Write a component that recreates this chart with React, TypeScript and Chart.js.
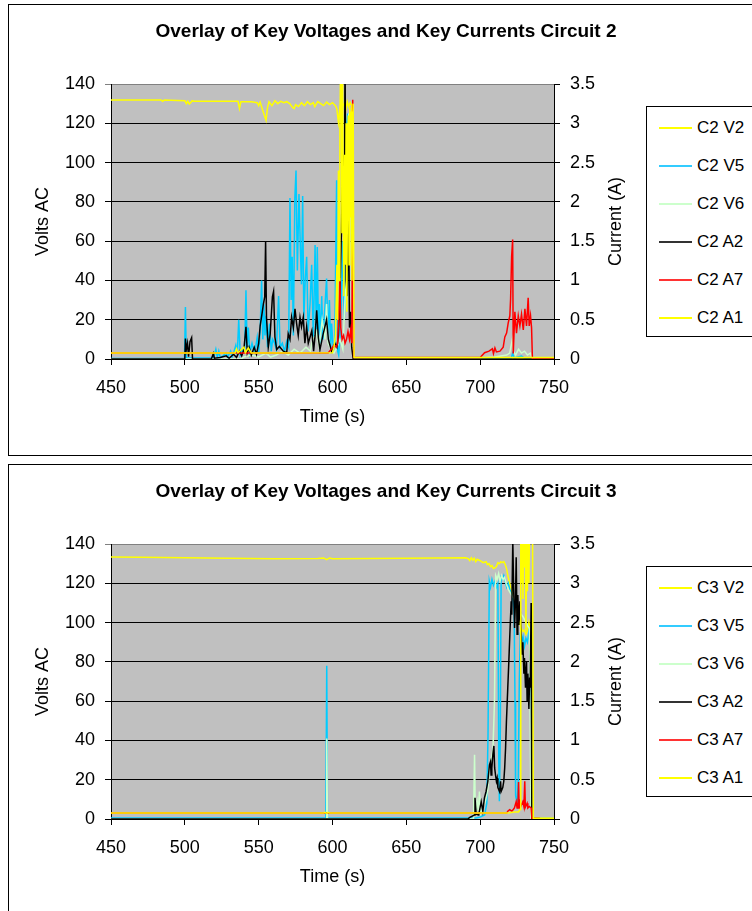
import React, { useEffect, useRef } from "react";
import { Chart, registerables } from "chart.js";

Chart.register(...registerables);

const FONT = "'Liberation Sans', Arial, Helvetica, sans-serif";

// ---------- axes ----------
const TIME_TICKS = [450, 500, 550, 600, 650, 700, 750];
const VOLT_TICKS = [0, 20, 40, 60, 80, 100, 120, 140];
const AMP_TICKS = [0, 0.5, 1, 1.5, 2, 2.5, 3, 3.5];

const TITLE_C2 = "Overlay of Key Voltages and Key Currents Circuit 2";
const TITLE_C3 = "Overlay of Key Voltages and Key Currents Circuit 3";
const X_TITLE = "Time (s)";
const Y_TITLE = "Volts AC";
const Y1_TITLE = "Current (A)";

const NAMES_C2 = ["C2 V2", "C2 V5", "C2 V6", "C2 A2", "C2 A7", "C2 A1"];
const NAMES_C3 = ["C3 V2", "C3 V5", "C3 V6", "C3 A2", "C3 A7", "C3 A1"];

// ---------- Circuit 2 data: [time s, value] ----------
const C2_V2: [number, number][] = [
  [450, 131.8], [484, 131.8], [485, 131.2], [486, 131.8], [500, 131.5], [501, 130.0], [502, 131.2], [503, 129.8],
  [504, 130.6], [505, 131.5], [506, 131.2], [536, 131.2], [537, 127.5], [538, 131.0], [545, 131.0], [549, 130.5],
  [550, 129.0], [551, 130.8], [553, 126.0], [555, 121.5], [556, 128.0], [557, 131.0], [559, 129.0], [561, 131.5],
  [563, 130.0], [565, 131.2], [567, 130.5], [569, 131.0], [571, 130.0], [573, 128.0], [574, 127.5], [575, 129.5],
  [577, 128.5], [579, 130.5], [581, 129.0], [583, 131.0], [585, 129.5], [587, 130.5], [588, 128.5], [590, 131.0],
  [592, 130.0], [594, 129.0], [596, 130.8], [598, 129.5], [600, 130.5], [602, 129.0], [603, 127.0], [604, 120.5],
  [605, 128.0], [606, 126.0], [607, 129.0], [608, 130.0], [609, 127.0], [610, 131.0], [611, 128.5], [612, 130.5],
  [613, 129.0], [614, 0.5], [750, 0.5],
];
const C2_V5: [number, number][] = [
  [450, 0.3], [499.8, 0.3], [500.4, 26.5], [501, 0.5], [519, 0.5], [520, 2], [521, 5], [522, 1], [523, 4], [524, 0.5],
  [528, 3], [529, 1], [531, 4], [532, 1], [533, 3], [534.5, 7], [535.5, 2], [536.5, 20], [537.5, 2], [539, 5],
  [540.5, 4], [541.4, 35], [542.2, 6], [543, 16], [544, 3], [545.5, 8], [546.8, 4], [548, 6], [549, 11], [550, 3],
  [551, 14], [552, 40], [552.8, 10], [553.5, 28], [554.3, 12], [555, 22], [556, 6], [557.4, 18], [558.5, 4],
  [559.5, 10], [560.8, 8], [562, 5], [563.5, 32], [564.5, 6], [566, 8], [567.5, 4], [569, 9], [570.3, 6],
  [571.2, 82], [572, 30], [572.7, 52], [573.5, 12], [574.5, 82], [575.3, 96], [576.2, 45], [577.3, 84], [578.3, 55],
  [579, 38], [579.8, 83], [580.6, 20], [581.5, 40], [582.5, 52], [583.5, 14], [584.8, 28], [585.9, 48], [587, 10],
  [588.2, 58], [589, 15], [589.7, 57], [590.5, 12], [591.1, 28], [592, 8], [592.7, 32], [593.5, 10], [594.5, 22],
  [596, 41], [597, 10], [597.9, 30], [598.8, 6], [599.4, 18], [600.5, 5], [601.5, 8], [602.8, 91], [603.5, 4],
  [604.2, 2], [605, 10], [606, 30], [607, 60], [608, 20], [609, 90], [609.6, 118], [610.3, 125], [611, 100],
  [611.6, 122], [612.3, 91], [613, 77], [613.6, 30], [614.2, 0.3], [721, 0.3], [722, 3], [723, 0.5], [728, 1.5],
  [730, 0.5], [750, 0.3],
];
const C2_V6: [number, number][] = [
  [450, 0], [538, 0], [540, 1], [545, 2], [550, 1], [555, 3], [558, 1], [562, 2], [566, 4], [570, 2], [574, 5],
  [578, 3], [582, 6], [585, 4], [586, 8], [589, 14], [591, 6], [593, 20], [595, 10], [596, 28], [597, 8], [599, 5],
  [601, 3], [603, 6], [605, 10], [607, 5], [609, 40], [610, 90], [611, 125], [612, 120], [612.5, 80], [613, 20],
  [614, 3], [615, 0.5], [700, 0.5], [710, 1], [718, 2], [720, 3], [721.8, 10], [722.5, 4], [724, 2], [726, 5],
  [728, 3], [730, 4], [732, 2], [734, 3], [735, 0.5], [750, 0.5],
];
const C2_A2: [number, number][] = [
  [450, 0], [500, 0], [500.4, 0.26], [501, 0.12], [501.8, 0.2], [502.5, 0.03], [503.5, 0.22], [504.6, 0.27],
  [505.2, 0], [518, 0], [519.3, 0.07], [520, 0.01], [524, 0.02], [528, 0.04], [530, 0.01], [533, 0.06], [535, 0.02],
  [537, 0.1], [538.5, 0.04], [540, 0.12], [541.4, 0.41], [542.3, 0.08], [543.5, 0.15], [545, 0.05], [547, 0.15],
  [548.5, 0.06], [550, 0.2], [551, 0.42], [552.3, 0.58], [553.2, 0.7], [554.1, 0.79], [554.7, 1.5], [555.3, 0.53],
  [556.5, 0.15], [557.8, 0.32], [559.3, 0.79], [560.1, 0.86], [561, 0.28], [562.2, 0.12], [564, 0.16], [566.7, 0.1],
  [569, 0.08], [570, 0.32], [571.2, 0.25], [572.3, 0.53], [573.5, 0.4], [574.6, 0.64], [575.7, 0.45], [576.8, 0.3],
  [578, 0.53], [579, 0.41], [580.2, 0.53], [581.3, 0.2], [582.5, 0.41], [583.6, 0.2], [584.8, 0.28], [586, 0.36],
  [587.2, 0.1], [588.2, 0.3], [589.3, 0.62], [590.4, 0.27], [591.5, 0.12], [593.7, 0.32], [596, 0.5], [597.2, 0.25],
  [599.4, 0.1], [601.7, 0.2], [603, 0.15], [604, 0.3], [605, 0.8], [606, 1.6], [607, 2.6], [607.8, 1.2],
  [608.5, 3.8], [609.2, 1.0], [610, 0.8], [610.8, 2.2], [611.5, 0.4], [612.3, 0.6], [613, 0.15], [614, 0], [750, 0],
];
const C2_A7: [number, number][] = [
  [450, 0.075], [597, 0.075], [598, 0.1], [599.5, 0.13], [601, 0.18], [602.5, 0.15], [603.5, 0.2], [604.3, 0.6],
  [605, 1.03], [605.6, 0.4], [606.5, 0.25], [607.5, 0.3], [608.5, 0.2], [609.5, 0.25], [610.5, 0.35], [611.5, 0.25],
  [612.4, 0.37], [613.1, 0.2], [613.7, 3.3], [614.3, 0.02], [700, 0.02], [703, 0.08], [706, 0.1], [708.3, 0.13],
  [709, 0.07], [710, 0.14], [711, 0.09], [713.4, 0.1], [715.6, 0.15], [716.7, 0.28], [717.9, 0.33], [719, 0.46],
  [720.1, 0.55], [720.6, 0.76], [721.3, 1.3], [722, 1.52], [722.4, 0.07], [723.5, 0.6], [724.6, 0.33], [725.8, 0.55],
  [726.9, 0.42], [728, 0.57], [729.2, 0.37], [730.3, 0.64], [731.4, 0.42], [732.5, 0.78], [733.2, 0.42],
  [734.1, 0.55], [734.8, 0.4], [735.4, 0.0], [750, 0.0],
];
const C2_A1: [number, number][] = [
  [450, 0.075], [534, 0.075], [535, 0.13], [536, 0.08], [540, 0.15], [541, 0.08], [543, 0.14], [545, 0.075],
  [600, 0.08], [601, 0.15], [602, 0.3], [603, 1.2], [603.5, 0.5], [604, 2.4], [604.5, 1.0], [605, 2.9], [605.5, 3.8],
  [606, 3.7], [606.4, 1.6], [606.8, 3.8], [607.2, 2.2], [607.7, 0.8], [608.2, 2.6], [608.7, 1.2], [609.2, 3.0],
  [609.7, 0.6], [610.2, 2.4], [610.7, 3.1], [611.2, 1.2], [611.7, 3.2], [612.2, 1.8], [612.7, 3.15], [613.2, 1.0],
  [613.6, 3.0], [614, 3.25], [614.6, 0.02], [750, 0.02],
];

// ---------- Circuit 3 data: [time s, value] ----------
const C3_V2: [number, number][] = [
  [450, 133.4], [470, 133.3], [500, 133.0], [530, 132.7], [560, 132.5], [590, 132.6], [594, 132.9], [596, 132.0],
  [598, 132.9], [600, 132.5], [650, 132.8], [690, 133.0], [692, 132.5], [693, 131.5], [694, 133.0], [695, 131.8],
  [696, 132.8], [697, 131.0], [698, 132.2], [700, 131.5], [702, 130.5], [704, 131.0], [705, 129.5], [706, 130.0],
  [707, 128.5], [708, 129.0], [709, 127.5], [710, 127.8], [711, 128.5], [712, 130.5], [713, 130.0], [714, 131.0],
  [715, 130.5], [716, 131.0], [717, 129.5], [718, 127.0], [719, 123.0], [720, 120.0], [721, 117.0], [722, 114.0],
  [723, 111.0], [724, 108.0], [725, 105.0], [726, 102.0], [727, 99.0], [728, 97.0], [729, 95.5], [730, 96.0],
  [731, 94.0], [732, 96.0], [733, 100.0], [734, 95.0], [735, 0.4], [750, 0.4],
];
const C3_V5: [number, number][] = [
  [450, 0.5], [595.5, 0.5], [596.1, 78], [596.6, 0.5], [697, 0.5], [700, 1], [703, 2], [704.5, 8], [705.3, 42],
  [706.2, 121], [707, 118], [708, 122], [709, 119], [710, 121], [711, 118], [712, 120], [712.6, 30], [713, 9],
  [713.6, 40], [714.2, 123], [715, 122], [716, 124], [717, 121], [718, 118], [719, 120], [720, 117], [721, 115],
  [722, 113], [723, 105], [723.6, 60], [724, 12], [725, 8], [725.8, 20], [726.5, 70], [727.2, 95], [728, 90],
  [729, 93], [730, 88], [731, 92], [732, 90], [733, 95], [734, 88], [734.8, 0.3], [750, 0.3],
];
const C3_V6: [number, number][] = [
  [450, 0], [595.6, 0], [596.1, 41], [596.6, 0], [695.5, 0], [696.2, 32.7], [696.7, 2], [698, 9], [698.8, 4],
  [699.5, 14], [700.5, 3], [702, 6], [703.5, 9], [705, 14], [706.3, 25], [707.5, 30], [708.7, 36], [709.7, 60],
  [710.5, 124], [711.5, 122], [712.5, 125], [713.5, 121], [714.5, 124], [715.5, 122], [716.5, 123], [717.6, 120],
  [719, 117], [720.5, 115], [722, 113], [723.2, 112], [725, 108], [727, 105], [729, 103], [731, 100], [732.5, 98],
  [733.4, 97], [734.4, 0], [750, 0],
];
const C3_A2: [number, number][] = [
  [450, 0], [691.6, 0], [693, 0.02], [695, 0.04], [696, 0.05], [696.5, 0.27], [697.3, 0.06], [699, 0.05],
  [700.7, 0.22], [701.8, 0.1], [702.9, 0.27], [704, 0.35], [705.2, 0.48], [706.3, 0.69], [707, 0.73], [707.4, 0.56],
  [707.9, 0.65], [708.6, 0.82], [709.3, 0.93], [709.8, 0.65], [710.4, 0.56], [711, 0.48], [711.5, 0.52], [712, 0.4],
  [713.1, 0.35], [713.8, 0.48], [714.2, 0.35], [715.3, 0.4], [716, 0.48], [716.6, 0.65], [717.2, 0.9], [717.8, 1.25],
  [718.7, 1.67], [719.4, 2.0], [720.1, 2.35], [721, 2.77], [721.4, 2.6], [722.1, 3.55], [722.6, 3.0], [723.3, 2.43],
  [723.9, 2.77], [724.4, 3.33], [725, 2.35], [725.5, 2.85], [726.2, 2.47], [726.9, 2.77], [727.8, 2.35],
  [728.4, 2.1], [728.9, 2.25], [729.6, 1.85], [730, 2.05], [730.7, 1.67], [731.4, 2.0], [731.8, 1.5], [732.3, 1.85],
  [733, 1.4], [733.5, 1.8], [733.9, 1.67], [734.5, 2.75], [735, 0], [750, 0],
];
const C3_A7: [number, number][] = [
  [450, 0.075], [718, 0.075], [718.7, 0.1], [720, 0.12], [721.5, 0.1], [723.2, 0.14], [724.4, 0.22], [725, 0.14],
  [725.6, 0.2], [726, 0.47], [726.4, 0.14], [726.9, 0.25], [727.5, 0.16], [728.9, 0.22], [729.6, 0.16],
  [730.2, 0.48], [730.6, 0.15], [731.8, 0.2], [732.3, 0.14], [733.4, 0.16], [734.5, 0.14], [735, 0.01], [740, 0.01],
  [741, 0], [750, 0],
];
const C3_A1: [number, number][] = [
  [450, 0.075], [594, 0.075], [595, 0.085], [596, 0.07], [597, 0.085], [598, 0.075], [718, 0.075], [720, 0.08],
  [723, 0.09], [726, 0.09], [727, 0.12], [727.5, 3.8], [728, 3.0], [728.5, 3.7], [729, 2.8], [729.5, 3.8], [730, 3.2],
  [730.5, 3.9], [731, 2.4], [731.5, 3.6], [732, 2.9], [732.5, 3.8], [733, 3.0], [733.5, 3.8], [734.5, 3.7],
  [735.5, 3.6], [736, 0.01], [750, 0.01],
];

// ---------- styles ----------
const LINE_COLORS = ["#FFFF00", "#00CCFF", "#CCFFCC", "#000000", "#FF0000", "#FFFF00"];
const LEGEND_COLORS = ["#FFFF00", "#33CCFF", "#CCFFCC", "#333333", "#FF3333", "#FFFF00"];
const AXIS_IDS = ["y", "y", "y", "y1", "y1", "y1"];

const plotBg = {
  id: "plotBg",
  beforeDraw(chart: any) {
    const { ctx, chartArea: a } = chart;
    ctx.save();
    ctx.fillStyle = "#C0C0C0";
    ctx.fillRect(a.left, a.top, a.right - a.left, a.bottom - a.top);
    ctx.restore();
  },
};

const rightTitle = {
  id: "rightTitle",
  afterDraw(chart: any, _args: any, opts: any) {
    const { ctx, chartArea: a } = chart;
    const scale = chart.scales.y1;
    ctx.save();
    ctx.translate(scale.left + opts.offset, (a.top + a.bottom) / 2);
    ctx.rotate(-Math.PI / 2);
    ctx.font = `18px ${FONT}`;
    ctx.fillStyle = "#000";
    ctx.textAlign = "center";
    ctx.textBaseline = "middle";
    ctx.fillText(opts.text, 0, 0);
    ctx.restore();
  },
};

const CANVAS_W = 754;
const CANVAS_H = 448;

function Panel(props: { top: number; title: string; names: string[]; series: [number, number][][] }) {
  const ref = useRef<HTMLCanvasElement | null>(null);

  useEffect(() => {
    if (!ref.current) return;
    const tickFont = { family: FONT, size: 18 };
    const datasets = props.series.map((pts, i) => ({
      label: props.names[i],
      data: pts.map(([x, y]) => ({ x, y })),
      yAxisID: AXIS_IDS[i],
      borderColor: LINE_COLORS[i],
      backgroundColor: LINE_COLORS[i],
      borderWidth: 1.5,
      pointRadius: 0,
      tension: 0,
      fill: false,
      order: props.series.length - i,
    }));
    const chart = new Chart(ref.current, {
      type: "line",
      data: { datasets },
      plugins: [plotBg, rightTitle],
      options: {
        responsive: false,
        animation: false,
        devicePixelRatio: 1,
        layout: { padding: 0 },
        plugins: {
          legend: { display: false },
          tooltip: { enabled: false },
          title: {
            display: true,
            text: props.title,
            color: "#000",
            font: { family: FONT, size: 19, weight: "bold" },
            padding: { top: 15.3, bottom: 40.9 },
          },
          rightTitle: { text: Y1_TITLE, offset: 62 },
        } as any,
        scales: {
          x: {
            type: "linear",
            min: TIME_TICKS[0],
            max: TIME_TICKS[TIME_TICKS.length - 1],
            ticks: {
              stepSize: TIME_TICKS[1] - TIME_TICKS[0],
              color: "#000",
              font: tickFont,
              padding: 12,
              maxRotation: 0,
              autoSkip: false,
            },
            grid: { drawOnChartArea: false, drawTicks: true, tickLength: 6, color: "#000" },
            border: { color: "#000" },
            title: { display: true, text: X_TITLE, color: "#000", font: tickFont, padding: { top: 0, bottom: 25.5 } },
            afterFit(s: any) {
              s.height = 94;
            },
          },
          y: {
            position: "left",
            min: VOLT_TICKS[0],
            max: VOLT_TICKS[VOLT_TICKS.length - 1],
            ticks: { stepSize: VOLT_TICKS[1] - VOLT_TICKS[0], color: "#000", font: tickFont, padding: 10 },
            grid: {
              color: (c: any) => (c.tick && c.tick.value === VOLT_TICKS[VOLT_TICKS.length - 1] ? "#808080" : "#000"),
              tickLength: 6,
              lineWidth: 1,
            },
            border: { color: "#000" },
            title: { display: true, text: Y_TITLE, color: "#000", font: tickFont, padding: { top: 23.2, bottom: 0 } },
            afterFit(s: any) {
              s.width = 102;
            },
          },
          y1: {
            position: "right",
            min: AMP_TICKS[0],
            max: AMP_TICKS[AMP_TICKS.length - 1],
            ticks: {
              stepSize: AMP_TICKS[1] - AMP_TICKS[0],
              color: "#000",
              font: tickFont,
              padding: 10,
              callback: (v: any) => String(Number(v)),
            },
            grid: { drawOnChartArea: false, tickLength: 6, color: "#000" },
            border: { color: "#000" },
            afterFit(s: any) {
              s.width = CANVAS_W - 545;
            },
          },
        },
      } as any,
    });
    return () => chart.destroy();
  }, []);

  return (
    <div
      style={{
        position: "absolute",
        left: 8,
        top: props.top,
        width: 760,
        height: 452,
        border: "1px solid #000",
        boxSizing: "border-box",
        background: "#fff",
      }}
    >
      <canvas
        ref={ref}
        width={CANVAS_W}
        height={CANVAS_H}
        style={{ position: "absolute", left: 0, top: 0, width: CANVAS_W, height: CANVAS_H, display: "block" }}
      />
      <div
        style={{
          position: "absolute",
          left: 637,
          top: 101,
          width: 140,
          height: 231,
          border: "1px solid #000",
          boxSizing: "border-box",
          background: "#fff",
        }}
      >
        {props.names.map((n, i) => (
          <div
            key={n}
            style={{
              position: "absolute",
              left: 12,
              top: 20.7 - 11 + i * 38,
              height: 22,
              width: 120,
            }}
          >
            <div
              style={{
                position: "absolute",
                left: 0,
                top: 10,
                width: 33,
                height: 0,
                borderTop: `2px solid ${LEGEND_COLORS[i]}`,
              }}
            />
            <span
              style={{
                position: "absolute",
                left: 38,
                top: 0,
                lineHeight: "22px",
                fontFamily: FONT,
                fontSize: 17,
                color: "#000",
                whiteSpace: "nowrap",
              }}
            >
              {n}
            </span>
          </div>
        ))}
      </div>
    </div>
  );
}

export default function App() {
  return (
    <div style={{ position: "absolute", left: 0, top: 0, width: 752, height: 911, overflow: "hidden", background: "#fff" }}>
      <Panel top={4} title={TITLE_C2} names={NAMES_C2} series={[C2_V2, C2_V5, C2_V6, C2_A2, C2_A7, C2_A1]} />
      <Panel top={464} title={TITLE_C3} names={NAMES_C3} series={[C3_V2, C3_V5, C3_V6, C3_A2, C3_A7, C3_A1]} />
    </div>
  );
}
